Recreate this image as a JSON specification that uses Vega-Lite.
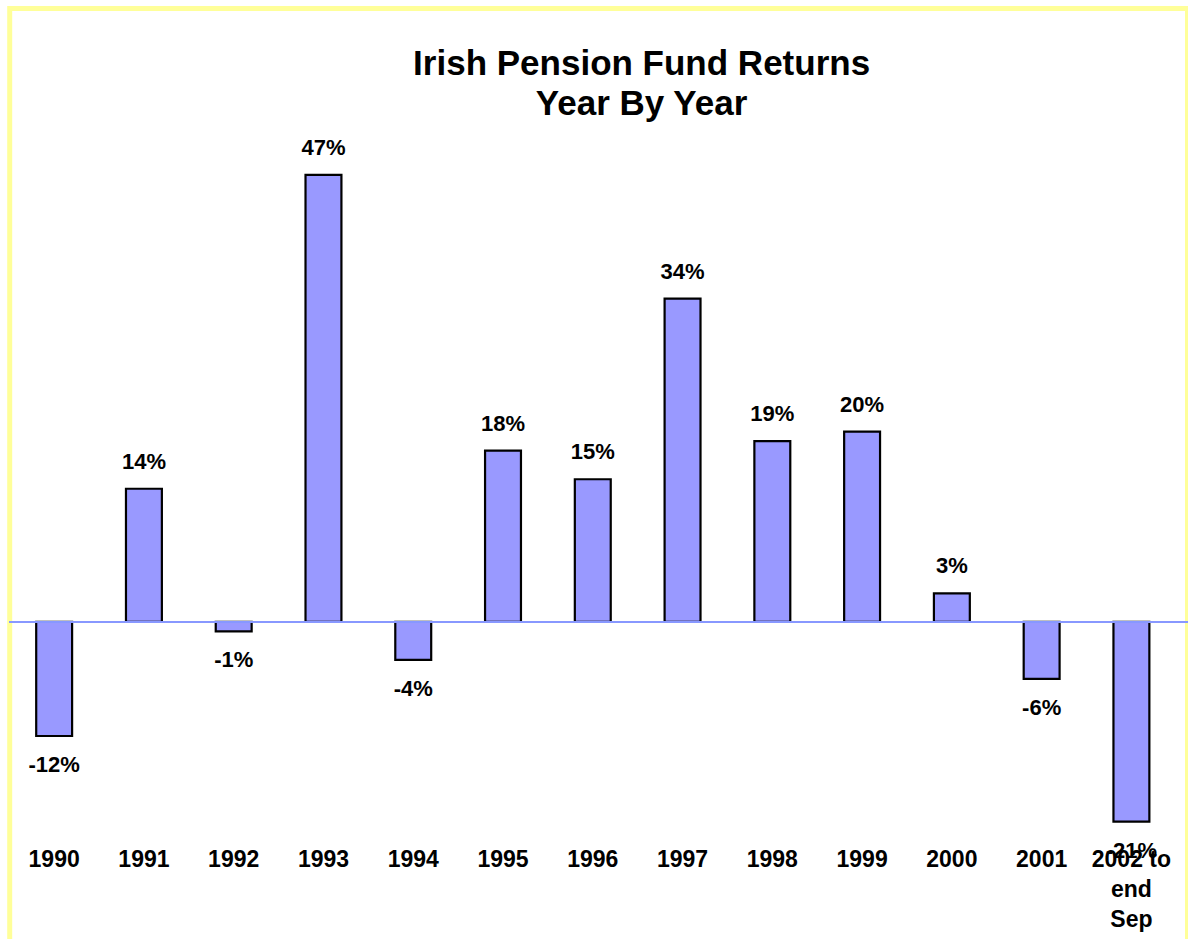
{
  "$schema": "https://vega.github.io/schema/vega-lite/v6.json",
  "autosize": "none",
  "width": 1177.8,
  "height": 941.5,
  "padding": {"left": 9.7, "top": 8.5, "right": 0, "bottom": 0},
  "background": "white",
  "config": {
    "view": {"stroke": "#FFFF99", "strokeWidth": 5},
    "font": "Liberation Sans"
  },
  "title": {
    "text": ["Irish Pension Fund Returns", "Year By Year"],
    "fontSize": 35,
    "fontWeight": "bold",
    "font": "Liberation Sans",
    "color": "black",
    "anchor": "middle",
    "baseline": "top",
    "offset": 0,
    "dx": 43,
    "dy": 113,
    "lineHeight": 40
  },
  "data": {
    "values": [
      {"year": "1990", "ret": -12, "label": "-12%"},
      {"year": "1991", "ret": 14, "label": "14%"},
      {"year": "1992", "ret": -1, "label": "-1%"},
      {"year": "1993", "ret": 47, "label": "47%"},
      {"year": "1994", "ret": -4, "label": "-4%"},
      {"year": "1995", "ret": 18, "label": "18%"},
      {"year": "1996", "ret": 15, "label": "15%"},
      {"year": "1997", "ret": 34, "label": "34%"},
      {"year": "1998", "ret": 19, "label": "19%"},
      {"year": "1999", "ret": 20, "label": "20%"},
      {"year": "2000", "ret": 3, "label": "3%"},
      {"year": "2001", "ret": -6, "label": "-6%"},
      {"year": "2002 to end Sep", "ret": -21, "label": "-21%"}
    ]
  },
  "encoding": {
    "x": {
      "field": "year",
      "type": "nominal",
      "sort": null,
      "scale": {"paddingInner": 0.6, "paddingOuter": 0.36, "align": 0.41},
      "axis": {
        "title": null,
        "domain": false,
        "ticks": false,
        "labelAngle": 0,
        "labelFontSize": 23,
        "labelFontWeight": "bold",
        "labelColor": "black",
        "labelFont": "Liberation Sans",
        "labelPadding": 2,
        "labelLineHeight": 30,
        "offset": -103.5,
        "labelExpr": "datum.value == '2002 to end Sep' ? ['2002 to', 'end', 'Sep'] : datum.label"
      }
    },
    "y": {
      "field": "ret",
      "type": "quantitative",
      "scale": {"domain": [-34.5, 64.5], "nice": false},
      "axis": null
    }
  },
  "layer": [
    {
      "mark": {"type": "bar", "fill": "#9999FF", "stroke": "black", "strokeWidth": 2.2},
      "encoding": {"y2": {"datum": 0}}
    },
    {
      "mark": {"type": "rule", "color": "#8899FF", "strokeWidth": 1.5},
      "encoding": {"y": {"datum": 0}, "x": null}
    },
    {
      "transform": [{"filter": "datum.ret >= 0"}],
      "mark": {"type": "text", "fontSize": 22, "fontWeight": "bold", "baseline": "middle", "dy": -27, "color": "black"},
      "encoding": {"text": {"field": "label", "type": "nominal"}}
    },
    {
      "transform": [{"filter": "datum.ret < 0"}],
      "mark": {"type": "text", "fontSize": 22, "fontWeight": "bold", "baseline": "middle", "dy": 29, "color": "black"},
      "encoding": {"text": {"field": "label", "type": "nominal"}}
    }
  ]
}
